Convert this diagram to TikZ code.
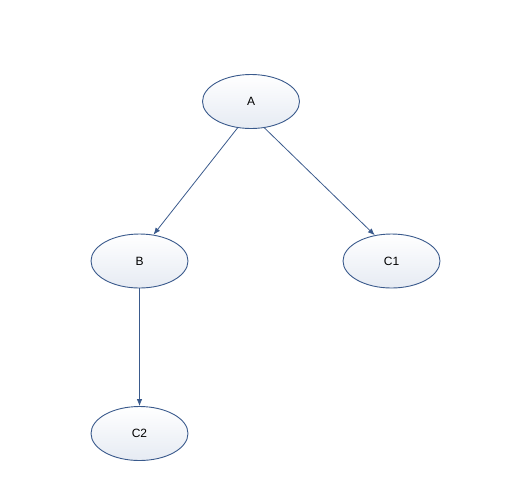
\documentclass[tikz,border=0pt]{standalone}
\usepackage{fontspec}
\setmainfont{Liberation Sans}
\usetikzlibrary{shapes.geometric,arrows.meta}
\definecolor{edgeblue}{HTML}{3A5A8C}
\definecolor{fillbot}{HTML}{E6EBF3}
\tikzset{
  ell/.style={ellipse, draw=edgeblue, line width=0.9pt, top color=white, bottom color=fillbot,
    minimum width=97pt, minimum height=54pt, inner sep=0pt, font=\fontsize{12}{14}\selectfont},
  conn/.style={draw=edgeblue, line width=0.8pt, -{Latex[length=7pt,width=5.5pt]}}
}
\begin{document}
\begin{tikzpicture}[x=1pt,y=-1pt]
\useasboundingbox (0,0) rectangle (513,483);
\node[ell] (A) at (251,101.5) {A};
\node[ell] (B) at (139.5,261) {B};
\node[ell] (C1) at (391.5,261) {C1};
\node[ell] (C2) at (139.5,433.5) {C2};
\draw[conn] (A.243) -- (B.62);
\draw[conn] (A.297) -- (C1.123);
\draw[conn] (B.south) -- (C2.north);
\end{tikzpicture}
\end{document}
